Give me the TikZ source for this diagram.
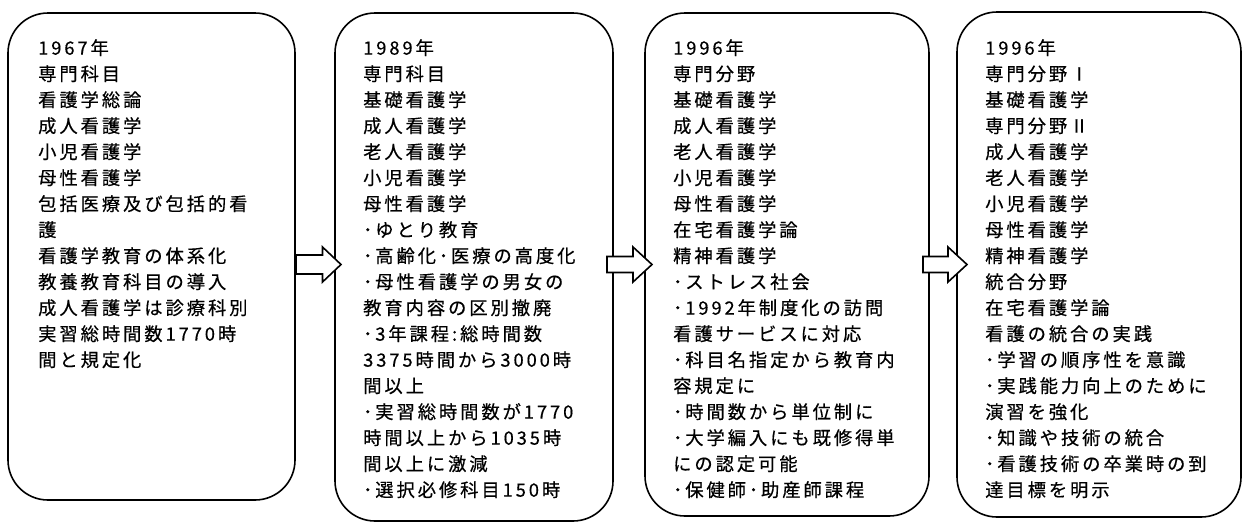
\documentclass[tikz,border=0pt]{standalone}
\usepackage{fontspec}
\newfontfamily\jp{Noto Sans CJK JP}[LetterSpace=16, FakeBold=0.5]
\usetikzlibrary{calc}
\tikzset{
  box/.style={draw=black, line width=1.6pt, rounded corners=40pt, fill=white, rectangle, inner sep=0pt, outer sep=0pt},
  txt/.style={anchor=north west, inner sep=0pt, align=left, font=\jp\fontsize{18.3pt}{26pt}\selectfont},
  blockarrow/.style={draw=black, line width=1.6pt, fill=white, line join=miter}
}
\newcommand\myarrow[5]{% start coord, tip coord, half shaft, half head, head length
  \draw[blockarrow] ($(#1)+(0,-#3)$) -- ($(#2)+(-#5,-#3)$) -- ($(#2)+(-#5,-#4)$) -- (#2)
    -- ($(#2)+(-#5,#4)$) -- ($(#2)+(-#5,#3)$) -- ($(#1)+(0,#3)$) -- cycle;}
\begin{document}
\begin{tikzpicture}[x=1pt,y=-1pt]
\useasboundingbox (0,0) rectangle (1242,523);
% boxes
\node[box, minimum width=287pt, minimum height=487pt] (b1) at (151.5,256.5) {};
\node[box, minimum width=278pt, minimum height=508pt] (b2) at (474,267) {};
\node[box, minimum width=284pt, minimum height=503pt] (b3) at (787,264.5) {};
\node[box, minimum width=284pt, minimum height=505pt] (b4) at (1099,264.5) {};
% texts
\node[txt] (t1) at (38,39) {1967年\\専門科目\\看護学総論\\成人看護学\\小児看護学\\母性看護学\\包括医療及び包括的看\\護\\看護学教育の体系化\\教養教育科目の導入\\成人看護学は診療科別\\実習総時間数1770時\\間と規定化};
\node[txt] (t2) at (363,39) {1989年\\専門科目\\基礎看護学\\成人看護学\\老人看護学\\小児看護学\\母性看護学\\･ゆとり教育\\･高齢化･医療の高度化\\･母性看護学の男女の\\教育内容の区別撤廃\\･3年課程:総時間数\\3375時間から3000時\\間以上\\･実習総時間数が1770\\時間以上から1035時\\間以上に激減\\･選択必修科目150時};
\node[txt] (t3) at (673,39) {1996年\\専門分野\\基礎看護学\\成人看護学\\老人看護学\\小児看護学\\母性看護学\\在宅看護学論\\精神看護学\\･ストレス社会\\･1992年制度化の訪問\\看護サービスに対応\\･科目名指定から教育内\\容規定に\\･時間数から単位制に\\･大学編入にも既修得単\\にの認定可能\\･保健師･助産師課程};
\node[txt] (t4) at (985,39) {1996年\\専門分野Ⅰ\\基礎看護学\\専門分野Ⅱ\\成人看護学\\老人看護学\\小児看護学\\母性看護学\\精神看護学\\統合分野\\在宅看護学論\\看護の統合の実践\\･学習の順序性を意識\\･実践能力向上のために\\演習を強化\\･知識や技術の統合\\･看護技術の卒業時の到\\達目標を明示};
% arrows
\coordinate (ay) at (0,264.5);
\coordinate (a1s) at ($(b1.east |- ay)+(1,0)$);
\coordinate (a1e) at ($(b2.west |- ay)+(6,0)$);
\coordinate (a2s) at ($(b2.east |- ay)+(-6,0)$);
\coordinate (a2e) at ($(b3.west |- ay)+(7,0)$);
\coordinate (a3s) at ($(b3.east |- ay)+(-6,0)$);
\coordinate (a3e) at ($(b4.west |- ay)+(10,0)$);
\myarrow{a1s}{a1e}{9.5}{17.5}{18.5}
\myarrow{a2s}{a2e}{8}{17.5}{19}
\myarrow{a3s}{a3e}{8}{17.5}{19}
\end{tikzpicture}
\end{document}
